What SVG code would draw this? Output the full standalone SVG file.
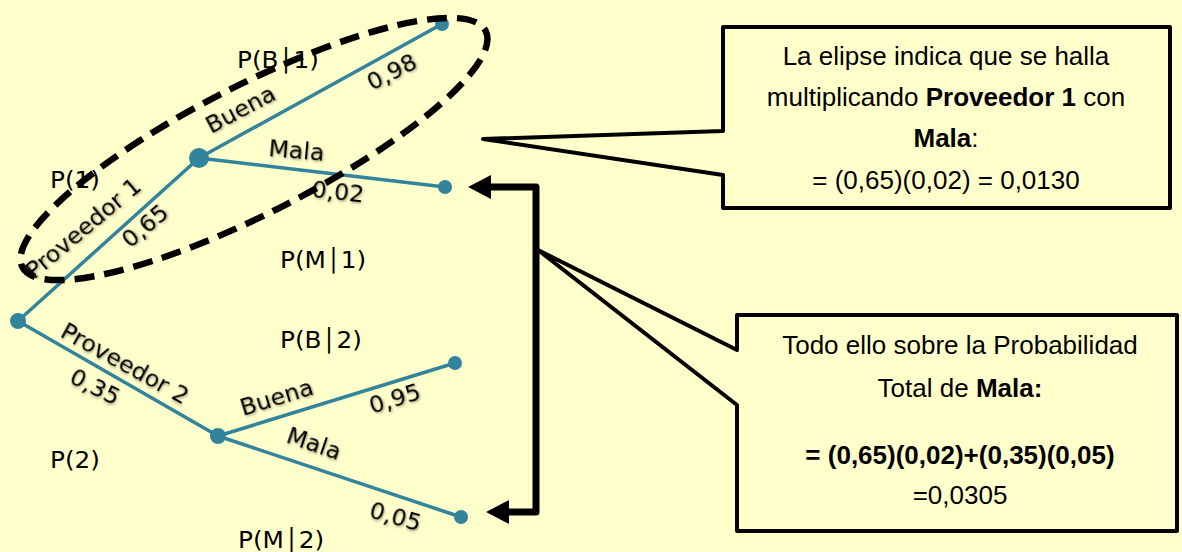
<svg xmlns="http://www.w3.org/2000/svg" width="1182" height="552" viewBox="0 0 1182 552">
<defs>
<style>
.edge{stroke:#31849B;stroke-width:3.5;fill:none;stroke-linecap:round}
.dot{fill:#31849B}
.t{font-family:"DejaVu Sans",Verdana,sans-serif;font-size:22.5px;fill:#000}
.sh{filter:url(#shadow)}
.c{font-family:"Liberation Sans",Arial,sans-serif;font-size:26px;fill:#000;text-anchor:middle}
.b{font-weight:bold}
.callout{fill:#FFFFCC;stroke:#000;stroke-width:4;stroke-linejoin:round}
.bracket{fill:none;stroke:#000;stroke-width:7;stroke-linejoin:round}
.ell{fill:none;stroke:#000;stroke-width:6.5;stroke-dasharray:20 10}
</style>
<filter id="shadow" x="-10%" y="-40%" width="130%" height="180%">
<feDropShadow dx="1" dy="1.5" stdDeviation="0.8" flood-color="#000" flood-opacity="0.35"/>
</filter>
<marker id="ah" markerUnits="userSpaceOnUse" markerWidth="24" markerHeight="24" viewBox="0 0 24 24" refX="0" refY="12" orient="auto-start-reverse">
<path d="M0,0 L23,12 L0,24 Z" fill="#000"/>
</marker>
</defs>
<rect x="0" y="0" width="1182" height="552" fill="#FFFFCC"/>

<g id="connectors">
<line class="edge" x1="18" y1="321" x2="199" y2="158"/>
<line class="edge" x1="18" y1="321" x2="218" y2="436"/>
<line class="edge" x1="199" y1="158" x2="442" y2="24"/>
<line class="edge" x1="199" y1="158" x2="445" y2="187"/>
<line class="edge" x1="218" y1="436" x2="455" y2="363"/>
<line class="edge" x1="218" y1="436" x2="461" y2="517"/>
<path class="bracket" d="M491,187 L536,187 L536,512 L509,512" marker-start="url(#ah)" marker-end="url(#ah)"/>
</g>

<g id="labels">
<text class="t" transform="translate(237,68) scale(1.1,1)">P(B│1)</text>
<text class="t" transform="translate(50,188) scale(1.1,1)">P(1)</text>
<text class="t" transform="translate(280,268) scale(1.1,1)">P(M│1)</text>
<text class="t" transform="translate(280,348) scale(1.1,1)">P(B│2)</text>
<text class="t" transform="translate(50,468) scale(1.1,1)">P(2)</text>
<text class="t" transform="translate(238,548) scale(1.1,1)">P(M│2)</text>
<text class="t sh" transform="translate(34,280) rotate(-40) scale(1.05,1)">Proveedor 1</text>
<text class="t sh" transform="translate(130,249) rotate(-40) scale(1.05,1)">0,65</text>
<text class="t sh" transform="translate(211,134) rotate(-28) scale(1.05,1)">Buena</text>
<text class="t sh" transform="translate(372,91) rotate(-27) scale(1.05,1)">0,98</text>
<text class="t sh" transform="translate(268,156) rotate(5) scale(1.05,1)">Mala</text>
<text class="t sh" transform="translate(311,197) rotate(6) scale(1.05,1)">0,02</text>
<text class="t sh" transform="translate(59,336) rotate(29) scale(1.05,1)">Proveedor 2</text>
<text class="t sh" transform="translate(68,382) rotate(27) scale(1.05,1)">0,35</text>
<text class="t sh" transform="translate(243,416) rotate(-17) scale(1.05,1)">Buena</text>
<text class="t sh" transform="translate(372,414) rotate(-17) scale(1.05,1)">0,95</text>
<text class="t sh" transform="translate(285,442) rotate(19) scale(1.05,1)">Mala</text>
<text class="t sh" transform="translate(368,517) rotate(16) scale(1.05,1)">0,05</text>
</g>

<g id="node-root"><circle class="dot" cx="18" cy="321" r="8"/></g>
<g id="node-proveedor1"><circle class="dot" cx="199" cy="158" r="10"/></g>
<g id="node-proveedor2"><circle class="dot" cx="218" cy="436" r="8"/></g>
<g id="node-b1"><circle class="dot" cx="442" cy="24" r="7"/></g>
<g id="node-m1"><circle class="dot" cx="445" cy="187" r="7"/></g>
<g id="node-b2"><circle class="dot" cx="455" cy="363" r="7"/></g>
<g id="node-m2"><circle class="dot" cx="461" cy="517" r="7"/></g>

<g id="ellipse-highlight">
<ellipse class="ell" cx="254" cy="149" rx="260" ry="64" transform="rotate(-27 254 149)"/>
</g>

<g id="callout-1">
<path class="callout" d="M723,27 L1170,27 L1170,208 L723,208 L723,175 L483,139 L723,131 Z"/>
<text class="c" x="946" y="65">La elipse indica que se halla</text>
<text class="c" x="946" y="106">multiplicando <tspan class="b">Proveedor 1</tspan> con</text>
<text class="c" x="946" y="147"><tspan class="b">Mala</tspan>:</text>
<text class="c" x="946" y="189">= (0,65)(0,02) = 0,0130</text>
</g>

<g id="callout-2">
<path class="callout" d="M737,315 L1177,315 L1177,531 L737,531 L737,405 L538,250 L737,350 Z"/>
<text class="c" x="960" y="354">Todo ello sobre la Probabilidad</text>
<text class="c" x="960" y="397">Total de <tspan class="b">Mala:</tspan></text>
<text class="c b" x="960" y="464">= (0,65)(0,02)+(0,35)(0,05)</text>
<text class="c" x="960" y="504">=0,0305</text>
</g>
</svg>
